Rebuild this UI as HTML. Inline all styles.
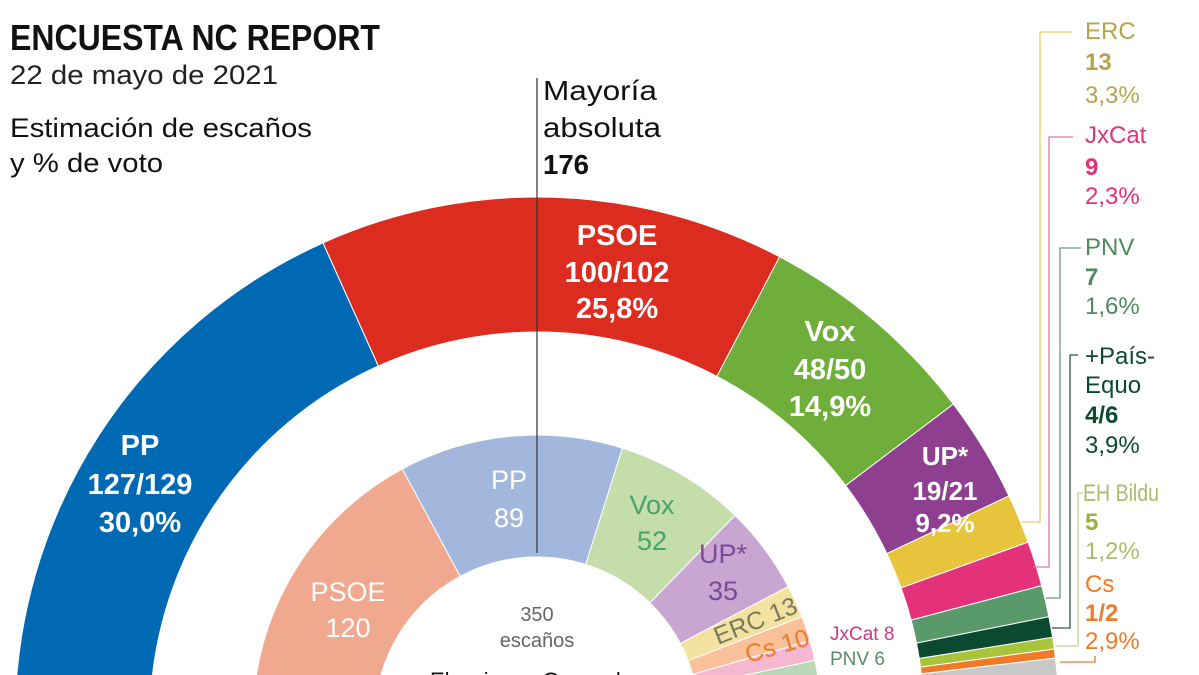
<!DOCTYPE html>
<html><head><meta charset="utf-8">
<style>
html,body{margin:0;padding:0;background:#fff;width:1199px;height:675px;overflow:hidden;}
svg{display:block;}
text{font-family:"Liberation Sans Narrow","Liberation Sans",sans-serif;}
</style></head>
<body>
<svg id="s" width="1199" height="675" viewBox="0 0 1199 675" xmlns="http://www.w3.org/2000/svg">
<g id="arcs"></g>
<line x1="537" y1="78" x2="537" y2="553" stroke="#333" stroke-width="1.2"/>
<!-- header -->
<text x="10" y="50" font-size="36" font-weight="bold" fill="#111" textLength="370" lengthAdjust="spacingAndGlyphs">ENCUESTA NC REPORT</text>
<text x="10" y="84" font-size="27" fill="#222" textLength="268" lengthAdjust="spacingAndGlyphs">22 de mayo de 2021</text>
<text x="10" y="137" font-size="27" fill="#111" textLength="302" lengthAdjust="spacingAndGlyphs">Estimación de escaños</text>
<text x="10" y="172" font-size="27" fill="#111" textLength="153" lengthAdjust="spacingAndGlyphs">y % de voto</text>
<text x="543" y="100" font-size="28" fill="#111" textLength="114" lengthAdjust="spacingAndGlyphs">Mayoría</text>
<text x="543" y="137" font-size="28" fill="#111" textLength="118" lengthAdjust="spacingAndGlyphs">absoluta</text>
<text x="543" y="174" font-size="28" font-weight="bold" fill="#111" textLength="46" lengthAdjust="spacingAndGlyphs">176</text>
<!-- outer labels -->
<g fill="#fff" font-weight="bold" font-size="29" text-anchor="middle">
<text x="140" y="455">PP</text><text x="140" y="494">127/129</text><text x="140" y="532">30,0%</text>
<text x="617" y="245">PSOE</text><text x="617" y="282">100/102</text><text x="617" y="318">25,8%</text>
<text x="830" y="341">Vox</text><text x="830" y="379">48/50</text><text x="830" y="416">14,9%</text>
<text x="945" y="465" font-size="26">UP*</text><text x="945" y="500" font-size="26">19/21</text><text x="945" y="532" font-size="26">9,2%</text>
</g>
<!-- inner labels -->
<g font-size="27" text-anchor="middle">
<text x="509" y="489" fill="#fff">PP</text><text x="509" y="527" fill="#fff">89</text>
<text x="348" y="601" fill="#fff">PSOE</text><text x="348" y="637" fill="#fff">120</text>
<text x="652" y="514" fill="#4aa36a">Vox</text><text x="652" y="550" fill="#4aa36a">52</text>
<text x="723" y="563" fill="#7a4a9a">UP*</text><text x="723" y="600" fill="#7a4a9a">35</text>
</g>
<text x="0" y="0" font-size="25" fill="#7a7a60" transform="translate(718,645) rotate(-22)">ERC 13</text>
<text x="0" y="0" font-size="25" fill="#ee7a2a" transform="translate(748,663) rotate(-16)">Cs 10</text>
<text x="537" y="621" font-size="20" fill="#666" text-anchor="middle">350</text>
<text x="537" y="647" font-size="20" fill="#666" text-anchor="middle">escaños</text>
<text x="537" y="688" font-size="22" fill="#111" text-anchor="middle">Elecciones Generales</text>
<text x="830" y="640" font-size="19" fill="#d6357f">JxCat 8</text>
<text x="830" y="665" font-size="19" fill="#5a8a6a">PNV 6</text>
<text x="830" y="690" font-size="19" fill="#a8b84a">EH Bildu 5</text>
<!-- connectors -->
<g fill="none" stroke-width="1.3">
<polyline points="1072,32 1040,32 1040,522 1022,522" stroke="#e2cc70"/>
<polyline points="1073,137 1049,137 1049,567 1033,567" stroke="#d97aa6"/>
<polyline points="1081,248 1060,248 1060,598 1046,598" stroke="#6a9a7a"/>
<polyline points="1078,355 1070,355 1070,628 1052,628" stroke="#2a5a48"/>
<polyline points="1083,493 1078,493 1078,646 1055,646" stroke="#c8d08a"/>
<polyline points="1060,662 1095,662 1095,656" stroke="#ee7a2a"/>
</g>
<g font-size="24">
<text x="1085" y="39" fill="#b8a44a">ERC</text><text x="1085" y="70" fill="#b8a44a" font-weight="bold">13</text><text x="1085" y="103" fill="#b8a44a">3,3%</text>
<text x="1085" y="143" fill="#e0337a">JxCat</text><text x="1085" y="175" fill="#e0337a" font-weight="bold">9</text><text x="1085" y="204" fill="#e0337a">2,3%</text>
<text x="1085" y="255" fill="#4f8a5e">PNV</text><text x="1085" y="285" fill="#4f8a5e" font-weight="bold">7</text><text x="1085" y="314" fill="#4f8a5e">1,6%</text>
<text x="1085" y="364" fill="#0b4a30">+País-</text><text x="1085" y="393" fill="#0b4a30">Equo</text><text x="1085" y="423" fill="#0b4a30" font-weight="bold">4/6</text><text x="1085" y="453" fill="#0b4a30">3,9%</text>
<text x="1083" y="501" fill="#a8bc6a" textLength="76" lengthAdjust="spacingAndGlyphs">EH Bildu</text><text x="1085" y="530" fill="#9ab040" font-weight="bold">5</text><text x="1085" y="559" fill="#a8bc6a">1,2%</text>
<text x="1085" y="592" fill="#ee7a2a">Cs</text><text x="1085" y="621" fill="#ee7a2a" font-weight="bold">1/2</text><text x="1085" y="649" fill="#ee7a2a">2,9%</text>
</g>
</svg>
<script>
(function(){
var cx=537,cy=719,g=document.getElementById('arcs'),ns="http://www.w3.org/2000/svg";
function P(r,a){a=a*Math.PI/180;return [cx+r*Math.cos(a),cy-r*Math.sin(a)];}
function seg(r1,r2,a1,a2,col){
 var p1=P(r2,a1),p2=P(r2,a2),p3=P(r1,a2),p4=P(r1,a1);
 var d="M"+p1+" A"+r2+","+r2+" 0 0 1 "+p2+" L"+p3+" A"+r1+","+r1+" 0 0 0 "+p4+"Z";
 var e=document.createElementNS(ns,'path');e.setAttribute('d',d);e.setAttribute('fill',col);
 e.setAttribute('stroke','#fff');e.setAttribute('stroke-width','1');g.appendChild(e);}
var outer=[[180,114.2,'#0069b4'],[114.2,62.3,'#dc2b1f'],[62.3,37.1,'#6fae3a'],[37.1,25.3,'#8e3f8f'],[25.3,19.8,'#e6c43b'],[19.8,14.8,'#e3327a'],[14.8,11.3,'#5a9a6a'],[11.3,9.0,'#0b4a30'],[9.0,7.7,'#a8c43a'],[7.7,6.7,'#ee7a2a'],[6.7,0,'#c8c8c8']];
outer.forEach(function(s){seg(387,522,s[0],s[1],s[2]);});
var inner=[[180,118.3,'#f0a88e'],[118.3,72.5,'#a3b7dd'],[72.5,45.8,'#c5dcab'],[45.8,27.8,'#c9a6d2'],[27.8,21.1,'#f3e2a0'],[21.1,16,'#f9c09a'],[16,11.9,'#f5b8d0'],[11.9,8.8,'#b8d8b8'],[8.8,6.2,'#d8e0a0'],[6.2,0,'#dddddd']];
inner.forEach(function(s){seg(162,284,s[0],s[1],s[2]);});
})();
</script>
</body></html>
